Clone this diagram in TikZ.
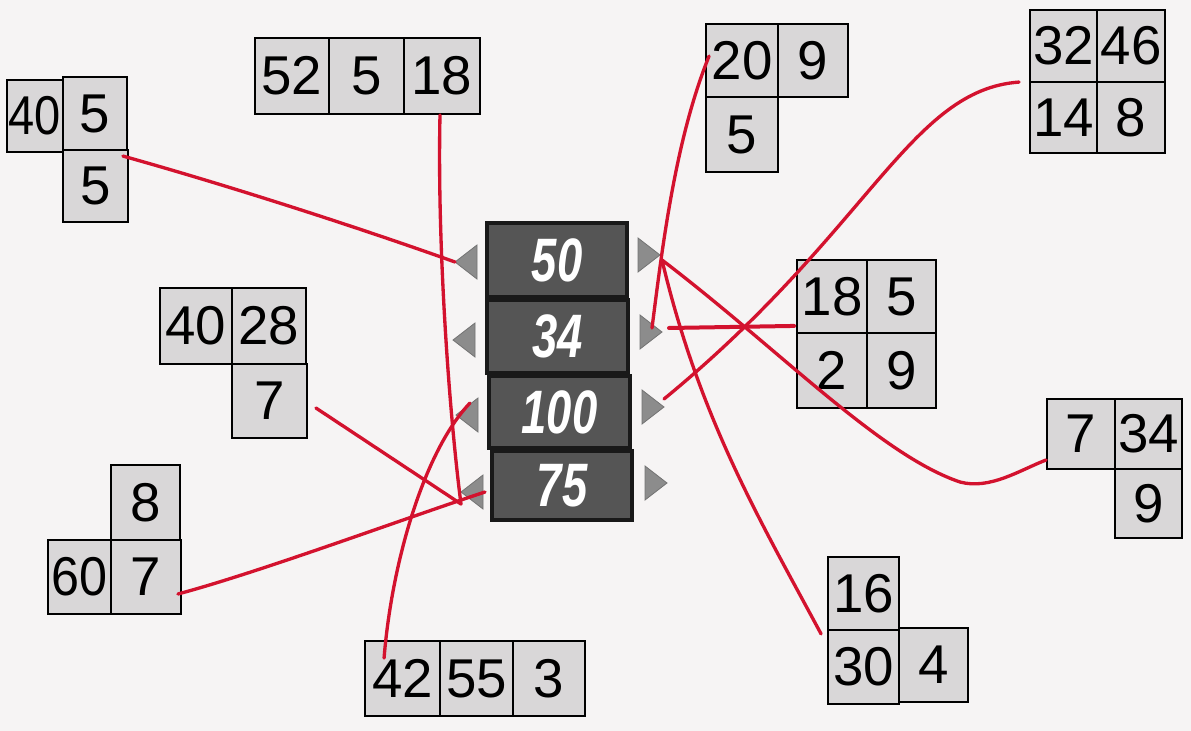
\documentclass[tikz,border=0pt]{standalone}
\usepackage{fontspec}
\setmainfont{Liberation Sans}
\usepackage{graphicx}
\usetikzlibrary{calc}
\definecolor{bgpaper}{HTML}{F6F4F4}
\definecolor{cellfill}{HTML}{D9D7D8}
\definecolor{boxfill}{HTML}{555555}
\definecolor{trifill}{HTML}{8C8C8C}
\definecolor{inkred}{HTML}{D3122E}
\tikzset{
  cell/.style={draw=black, line width=1.4pt, fill=cellfill, inner sep=0pt,
    font=\fontsize{41}{41}\selectfont},
  numbox/.style={draw=black!90, line width=2.4pt, fill=boxfill, inner sep=0pt,
    text=white, font=\fontsize{46}{46}\selectfont\bfseries\itshape},
  tri/.style={fill=trifill, draw=black!55, line width=0.6pt},
  redline/.style={draw=inkred, line width=2.5pt, line cap=round},
}
\newcommand\cellbox[6]{\node[cell, minimum width={(#4-#2)*0.75pt}, minimum height={(#5-#3)*0.75pt}] (#1) at ({(#2+#4)/2},{(#3+#5)/2}) {#6};}
\newcommand\bigbox[6]{\node[numbox, minimum width={(#4-#2)*0.75pt}, minimum height={(#5-#3)*0.75pt}] (#1) at ({(#2+#4)/2},{(#3+#5)/2}) {\scalebox{0.74}[1]{#6}};}
\newcommand\lefttri[3]{\path[tri] (#2,#3) -- (#2+22,#3-17) -- (#2+22,#3+17) -- cycle; \coordinate (#1) at (#2,#3);}
\newcommand\righttri[3]{\path[tri] (#2,#3) -- (#2-22,#3-17) -- (#2-22,#3+17) -- cycle; \coordinate (#1) at (#2,#3);}
\begin{document}
\begin{tikzpicture}[x=0.75pt,y=-0.75pt]
\fill[bgpaper] (0,0) rectangle (1191,731);
\useasboundingbox (0,0) rectangle (1191,731);

% group A
\cellbox{A1}{7}{80}{63}{152}{\scalebox{0.86}[1]{40}}
\cellbox{A2}{63}{77}{127}{150}{5}
\cellbox{A3}{63}{150}{128}{222}{5}
% group B
\cellbox{B1}{255}{38}{329}{114}{52}
\cellbox{B2}{329}{38}{404}{114}{5}
\cellbox{B3}{404}{38}{480}{114}{18}
% group C
\cellbox{C1}{706}{24}{778}{97}{20}
\cellbox{C2}{778}{24}{848}{97}{9}
\cellbox{C3}{706}{97}{778}{172}{5}
% group D
\cellbox{D1}{1030}{10}{1097}{82}{32}
\cellbox{D2}{1097}{10}{1165}{82}{46}
\cellbox{D3}{1030}{82}{1097}{153}{14}
\cellbox{D4}{1097}{82}{1165}{153}{8}
% group E
\cellbox{E1}{797}{260}{867}{333}{18}
\cellbox{E2}{867}{260}{936}{333}{5}
\cellbox{E3}{797}{333}{867}{408}{2}
\cellbox{E4}{867}{333}{936}{408}{9}
% group F
\cellbox{F1}{1047}{399}{1115}{469}{7}
\cellbox{F2}{1115}{399}{1182}{469}{34}
\cellbox{F3}{1115}{469}{1182}{538}{9}
% group G
\cellbox{G1}{160}{288}{232}{364}{40}
\cellbox{G2}{232}{288}{306}{364}{28}
\cellbox{G3}{232}{364}{307}{438}{7}
% group H
\cellbox{H1}{111}{465}{180}{540}{8}
\cellbox{H2}{48}{540}{111}{614}{\scalebox{0.92}[1]{60}}
\cellbox{H3}{111}{540}{181}{614}{7}
% group I
\cellbox{I1}{365}{641}{440}{716}{42}
\cellbox{I2}{440}{641}{513}{716}{55}
\cellbox{I3}{513}{641}{585}{716}{3}
% group J
\cellbox{J1}{828}{557}{899}{630}{16}
\cellbox{J2}{828}{630}{899}{704}{30}
\cellbox{J3}{899}{628}{968}{702}{4}

% central boxes
\bigbox{b50}{487}{223}{627}{297}{50}
\bigbox{b34}{487}{300}{628}{373}{34}
\bigbox{b100}{489}{376}{630}{448}{100}
\bigbox{b75}{492}{451}{632}{520}{75}

% triangles
\lefttri{tl50}{455}{262}
\lefttri{tl34}{453}{340}
\lefttri{tl100}{456}{415}
\lefttri{tl75}{461}{492}
\righttri{tr50}{660}{255}
\righttri{tr34}{662}{332}
\righttri{tr100}{664}{407}
\righttri{tr75}{667}{483}

\coordinate (m75) at ($(tl75)+(0,12)$);
\coordinate (s50) at ($(tr50)+(2,5)$);

% connectors
\draw[redline] ($(A3.north east)+(-6,7)$) .. controls (230,186) and (360,228) .. (tl50);
\draw[redline] ($(B3.south)+(-2,0)$) .. controls (437,250) and (450,420) .. (m75);
\draw[redline] ($(G3.east)+(8,7)$) -- (m75);
\draw[redline] ($(H3.east)+(-4,17)$) .. controls (260,572) and (400,520) .. ($(tl75)+(24,0)$);
\draw[redline] ($(I1.north west)+(20,18)$) .. controls (392,560) and (425,450) .. ($(tl100)+(14,-12)$);
\draw[redline] ($(C1.north west)+(4,33)$) .. controls (675,140) and (662,250) .. ($(tr34)+(-10,-4)$);
\draw[redline] ($(D3.north west)+(-10,1)$) .. controls (910,90) and (870,230) .. ($(tr100)+(0,-8)$);
\draw[redline, line width=3pt] ($(E1.south west)+(-2,-8)$) -- ($(tr34)+(7,-4)$);
\draw[redline] (s50) .. controls (780,350) and (880,455) .. (960,482) .. controls (990,490) and (1020,470) .. ($(F1.west)+(0,26)$);
\draw[redline] (s50) .. controls (700,420) and (760,520) .. ($(J1.south west)+(-6,3)$);
\end{tikzpicture}
\end{document}
